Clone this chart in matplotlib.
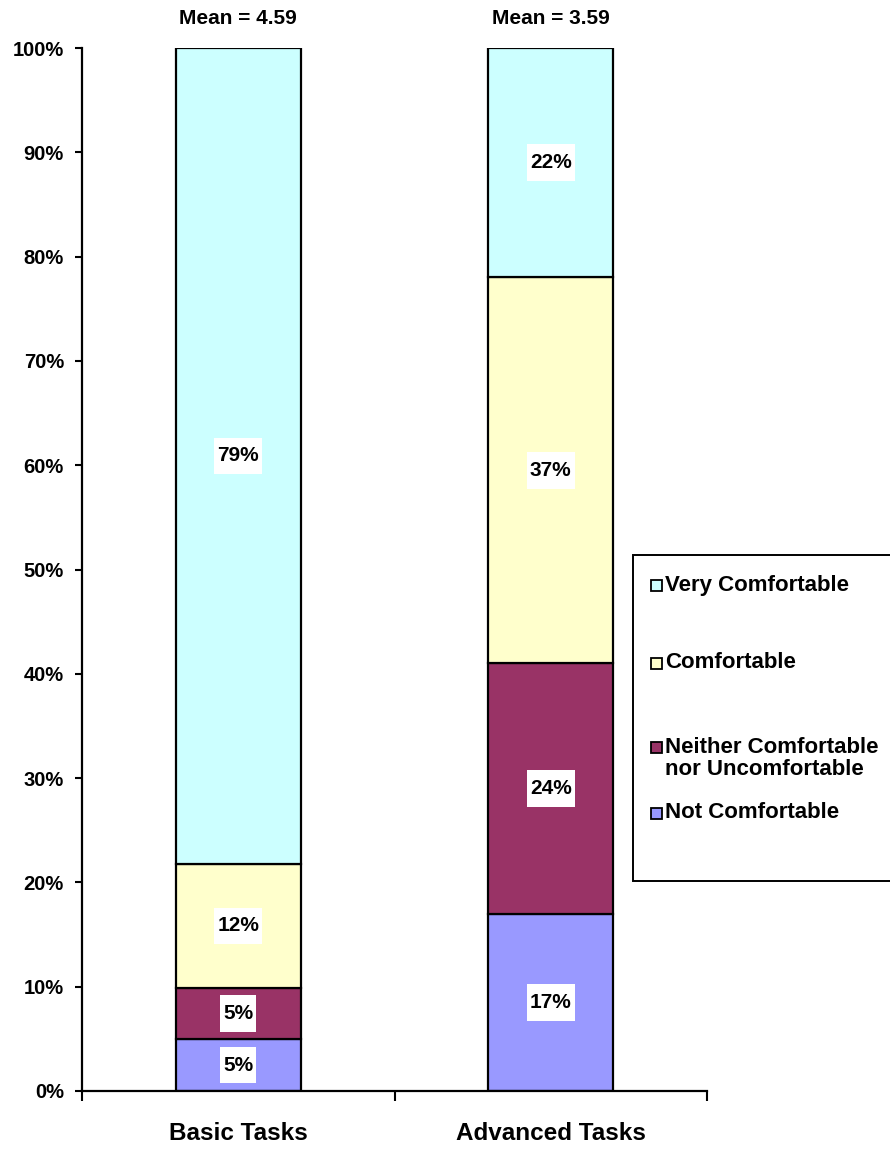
import numpy as np
import matplotlib
matplotlib.use("Agg")
import matplotlib.pyplot as plt
from matplotlib.patches import Rectangle
from matplotlib.path import Path
from matplotlib.ticker import FixedLocator, FuncFormatter

# Data
categories = ["Basic Tasks", "Advanced Tasks"]
means = [4.59, 3.59]
levels = ["Not Comfortable", "Neither Comfortable\nnor Uncomfortable",
          "Comfortable", "Very Comfortable"]
colors = ["#9999FF", "#993366", "#FFFFCC", "#CCFFFF"]
basic_pct = [5, 5, 12, 79]
advanced_pct = [17, 24, 37, 22]
y_ticks = [0, 10, 20, 30, 40, 50, 60, 70, 80, 90, 100]

plt.rcParams["font.family"] = ["Liberation Sans", "DejaVu Sans"]
plt.rcParams["font.weight"] = "bold"


def label_box(x0, y0, width, height, mutation_size):
    # white box that is taller than the text, like the spreadsheet labels
    px, py = 0.15 * mutation_size, 0.42 * mutation_size
    x0, y0 = x0 - px, y0 - py
    x1, y1 = x0 + width + 2 * px, y0 + height + 2 * py
    return Path([(x0, y0), (x1, y0), (x1, y1), (x0, y1), (x0, y0)], closed=True)


W, H = 890, 1157
fig = plt.figure(figsize=(W / 100, H / 100), dpi=100, facecolor="white")
ax = fig.add_axes([82 / W, 1 - 1091 / H, (707 - 82) / W, (1091 - 48) / H])

values = np.array([basic_pct, advanced_pct], dtype=float)  # rows: categories
# 100% stacked, like the original spreadsheet chart
shares = values / values.sum(axis=1, keepdims=True) * 100
x = np.arange(len(categories))
bottom = np.zeros(len(categories))

for j, level in enumerate(levels):
    ax.bar(x, shares[:, j], width=0.4, bottom=bottom, color=colors[j],
           edgecolor="black", linewidth=1.6, label=level, zorder=2)
    for i in range(len(categories)):
        ax.text(x[i], bottom[i] + shares[i, j] / 2, f"{values[i, j]:.0f}%",
                ha="center", va="center", fontsize=15, fontweight="bold",
                zorder=3,
                bbox=dict(boxstyle=label_box, facecolor="white",
                          edgecolor="none"))
    bottom += shares[:, j]

# mean labels above the bars
for i, m in enumerate(means):
    ax.annotate(f"Mean = {m:.2f}", xy=(x[i], 100), xytext=(0, 21),
                textcoords="offset points", ha="center", va="center",
                fontsize=15, fontweight="bold", annotation_clip=False)

ax.set_xlim(-0.5, 1.5)
ax.set_ylim(0, 100)

# y axis
ax.yaxis.set_major_locator(FixedLocator(y_ticks))
ax.yaxis.set_major_formatter(FuncFormatter(lambda v, p: f"{v:.0f}%"))
ax.tick_params(axis="y", direction="out", length=5, width=1.5,
               labelsize=14.5, pad=8)

# x axis: ticks on category boundaries, labels centred on the bars
ax.xaxis.set_major_locator(FixedLocator([-0.5, 0.5, 1.5]))
ax.xaxis.set_major_formatter(FuncFormatter(lambda v, p: ""))
ax.xaxis.set_minor_locator(FixedLocator(x))
ax.set_xticklabels(categories, minor=True)
ax.tick_params(axis="x", which="major", direction="out", length=7, width=1.5)
ax.tick_params(axis="x", which="minor", length=0, labelsize=17.5, pad=22)

for s in ["top", "right"]:
    ax.spines[s].set_visible(False)
for s in ["left", "bottom"]:
    ax.spines[s].set_linewidth(1.6)

# legend box drawn like the spreadsheet legend
fig.patches.append(Rectangle((633 / W, 1 - 881 / H), (895 - 633) / W,
                             (881 - 555) / H, transform=fig.transFigure,
                             facecolor="white", edgecolor="black",
                             linewidth=1.4, zorder=5))
legend_rows = [(3, 585, 585), (2, 663, 663), (1, 747, 758.5), (0, 813, 813)]
for j, ym, yt in legend_rows:
    fig.patches.append(Rectangle((651 / W, 1 - (ym + 5.5) / H), 11 / W, 11 / H,
                                 transform=fig.transFigure,
                                 facecolor=colors[j], edgecolor="black",
                                 linewidth=1.3, zorder=6))
    fig.text(665 / W, 1 - yt / H, levels[j], ha="left", va="center",
             fontsize=16, fontweight="bold", linespacing=1.1, zorder=6)

fig.savefig("out.png", dpi=100, facecolor="white")
